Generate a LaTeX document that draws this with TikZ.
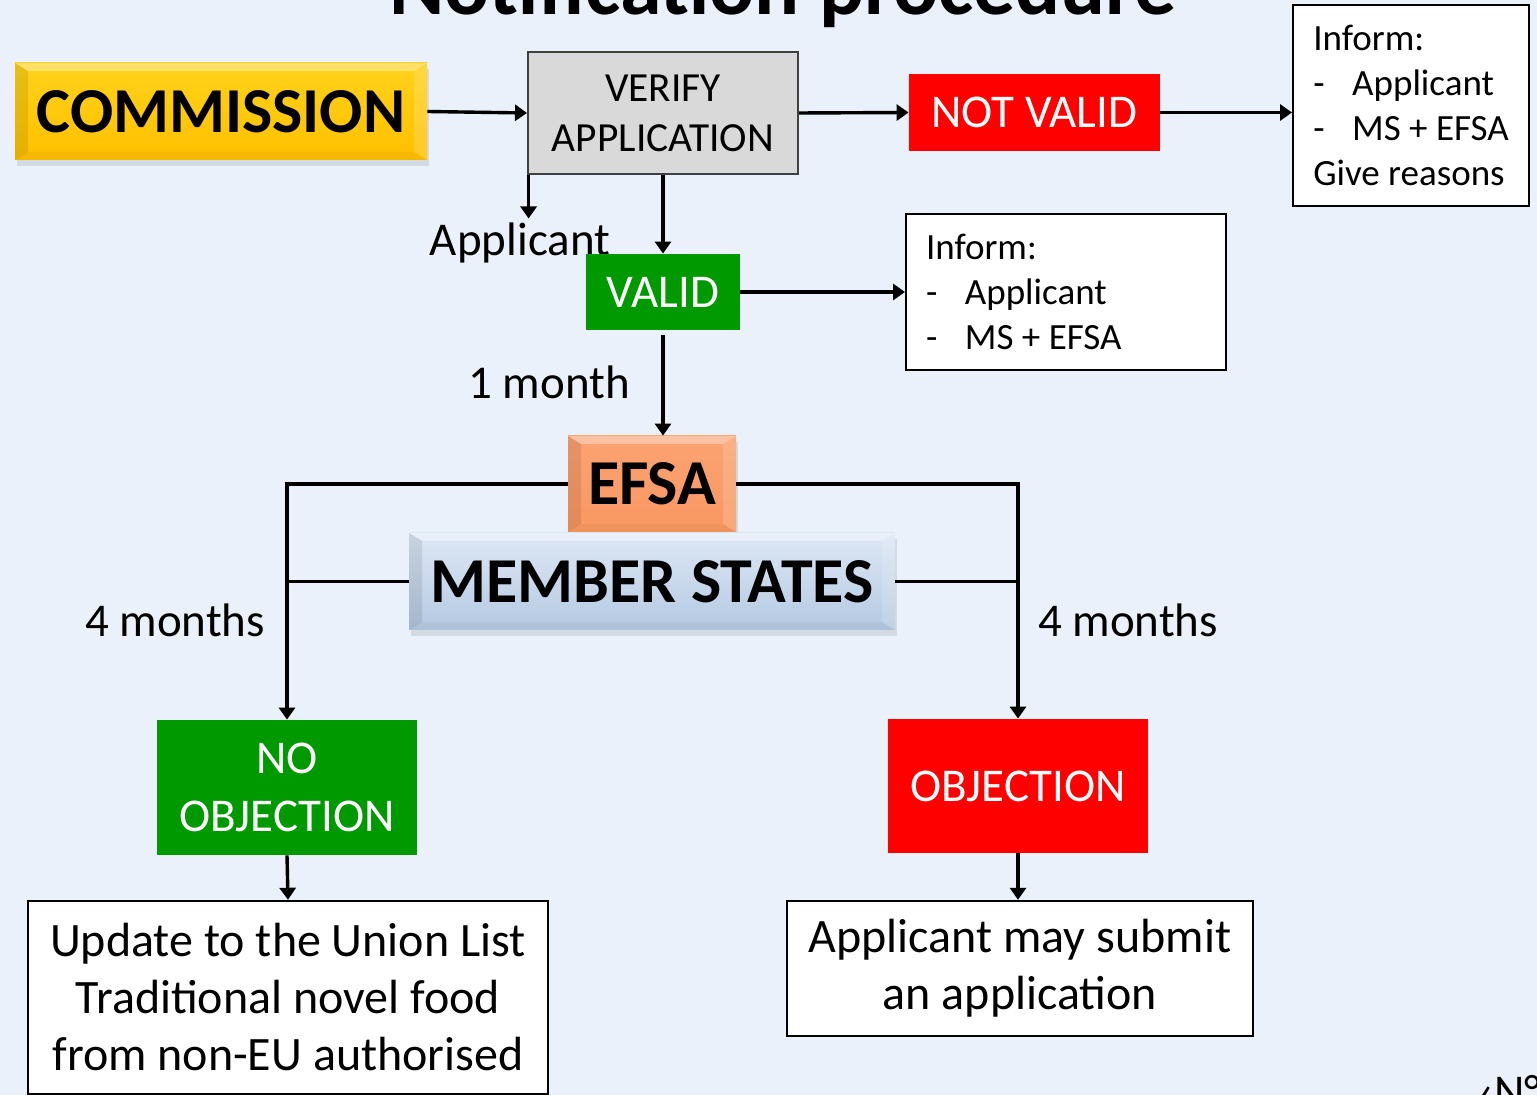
\documentclass[tikz,border=0pt]{standalone}
\usepackage{fontspec}
\setmainfont{Carlito}
\usetikzlibrary{arrows.meta,shadows}
\definecolor{slidebg}{HTML}{EAF1FA}
\definecolor{okgreen}{HTML}{009900}
\definecolor{nored}{HTML}{FF0000}
\definecolor{vergray}{HTML}{D9D9D9}
\definecolor{vedge}{HTML}{404040}
\definecolor{commgold}{HTML}{FFC000}
\definecolor{commlite}{HTML}{FFD21A}
\definecolor{efsaor}{HTML}{F99862}
\definecolor{efsalite}{HTML}{FBA272}
\definecolor{mstop}{HTML}{DDE8F5}
\definecolor{msbot}{HTML}{B5C9E2}

\newcommand{\fsz}[2]{\fontsize{#1}{#2}\selectfont}
\newcommand{\dashitem}[1]{\makebox[19.5pt][l]{-}#1}

\begin{document}
\begin{tikzpicture}[
  x=0.5pt, y=-0.5pt,
  arr/.style={-{Triangle[length=6pt,width=8pt]}, line width=1.7pt},
  wire/.style={line width=1.7pt},
  flat/.style={inner sep=0pt, align=center, text=white, font=\fsz{23.5}{29}},
  bevel/.style 2 args={top color=#1, bottom color=#2, inner sep=0pt, align=center,
    font=\bfseries\fsz{32}{37},
    drop shadow={shadow xshift=1pt, shadow yshift=-3pt, opacity=.2},
    path picture={
      \coordinate (pa) at (path picture bounding box.north west);
      \coordinate (pb) at (path picture bounding box.south east);
      \coordinate (pc) at (path picture bounding box.north east);
      \coordinate (pd) at (path picture bounding box.south west);
      \fill[white, opacity=.35] (pa) -- (pc) -- ([shift={(-6.5pt,-4pt)}]pc) -- ([shift={(6.5pt,-4pt)}]pa) -- cycle;
      \fill[black, opacity=.04] (pb) -- (pd) -- ([shift={(6.5pt,4pt)}]pd) -- ([shift={(-6.5pt,4pt)}]pb) -- cycle;
      \fill[black, opacity=.09] (pa) -- (pd) -- ([shift={(6.5pt,4pt)}]pd) -- ([shift={(6.5pt,-4pt)}]pa) -- cycle;
      \fill[white, opacity=.15] (pc) -- (pb) -- ([shift={(-6.5pt,4pt)}]pb) -- ([shift={(-6.5pt,-4pt)}]pc) -- cycle;
    }},
  infobox/.style={draw, line width=1pt, fill=white, align=flush left, inner xsep=10pt,
    font=\fsz{18.5}{22.5}},
  resbox/.style={draw, line width=1.2pt, fill=white, align=center, inner sep=0pt,
    font=\fsz{24}{28.5}},
  lbl/.style={font=\fsz{23.5}{28}, inner sep=2pt},
]
\useasboundingbox (0,0) rectangle (1537,1095);
\clip (0,0) rectangle (1537,1095);
\fill[slidebg] (0,0) rectangle (1537,1095);

% ---------- title (cut off at the top) ----------
\node[font=\bfseries\fsz{42}{50}, anchor=base, inner sep=0pt] (title) at (783,15) {Notification procedure};

% ---------- top row ----------
\node[bevel={commlite}{commgold}, minimum width=206pt, minimum height=48.5pt] (comm) at (221,111.5) {COMMISSION};
\node[draw=vedge, line width=1pt, fill=vergray, align=center, font=\fsz{20.7}{25},
  minimum width=135pt, minimum height=61pt, inner sep=0pt] (verify) at (663,113) {VERIFY\\APPLICATION};
\node[flat, fill=nored, minimum width=125.5pt, minimum height=38.5pt] (notvalid) at (1034.5,112.5) {NOT VALID};
\node[infobox, minimum width=118pt, minimum height=100.5pt] (inf1) at (1411,105.5)
  {Inform:\\\dashitem{Applicant}\\\dashitem{MS + EFSA}\\Give reasons};

\draw[arr] (comm.east) -- (verify.west);
\draw[arr] (verify.east) -- (notvalid.west);
\draw[arr] (notvalid.east) -- (inf1.west |- notvalid.east);

% ---------- valid ----------
\node[lbl] (appl) at (520,243) {Applicant};
\node[flat, fill=okgreen, minimum width=77pt, minimum height=38pt] (valid) at (663,292) {VALID};
\node[infobox, text width=140pt, minimum height=78pt] (inf2) at (1066,292)
  {Inform:\\\dashitem{Applicant}\\\dashitem{MS + EFSA}};

\draw[arr] ([xshift=0.8pt]verify.south west) -- ([xshift=0.8pt]verify.south west |- appl.north);
\draw[arr] (verify.south) -- (valid.north);
\draw[arr] (valid.east) -- (inf2.west);

% ---------- EFSA / member states ----------
\node[lbl] (month) at (549,382) {1 month};
\node[bevel={efsalite}{efsaor}, minimum width=84pt, minimum height=48pt] (efsa) at (652,484) {EFSA};
\node[bevel={mstop}{msbot}, minimum width=243pt, minimum height=48.5pt] (ms) at (652,581.5) {MEMBER STATES};

\draw[arr] ([yshift=-2.5pt]valid.south) -- (valid.south |- efsa.north);

% ---------- outcomes ----------
\node[flat, fill=okgreen, minimum width=130pt, minimum height=67.5pt] (noobj) at (287,787.5) {NO\\OBJECTION};
\node[flat, fill=nored, minimum width=130pt, minimum height=67pt] (obj) at (1018,786) {OBJECTION};
\node[lbl] (mleft) at (175,620) {4 months};
\node[lbl] (mright) at (1128,620) {4 months};

\draw[arr] (efsa.west) -| (noobj.north);
\draw[wire] (ms.west) -- (ms.west -| noobj.north);
\draw[arr] (efsa.east) -| (obj.north);
\draw[wire] (ms.east) -- (ms.east -| obj.north);

\node[resbox, minimum width=260pt, minimum height=96.5pt] (upd) at (288,997.5)
  {Update to the Union List\\Traditional novel food\\from non-EU authorised};
\node[resbox, minimum width=233pt, minimum height=67.5pt] (sub) at (1020,968.5)
  {Applicant may submit\\an application};

\draw[arr] (noobj.south) -- (upd.north);
\draw[arr] (obj.south) -- (obj.south |- sub.north);

% ---------- slide number (cut off) ----------
\node[font=\fsz{23.5}{28}, anchor=base west, inner sep=0pt] (slno) at (1478,1107) {‹N°›};

\end{tikzpicture}
\end{document}
